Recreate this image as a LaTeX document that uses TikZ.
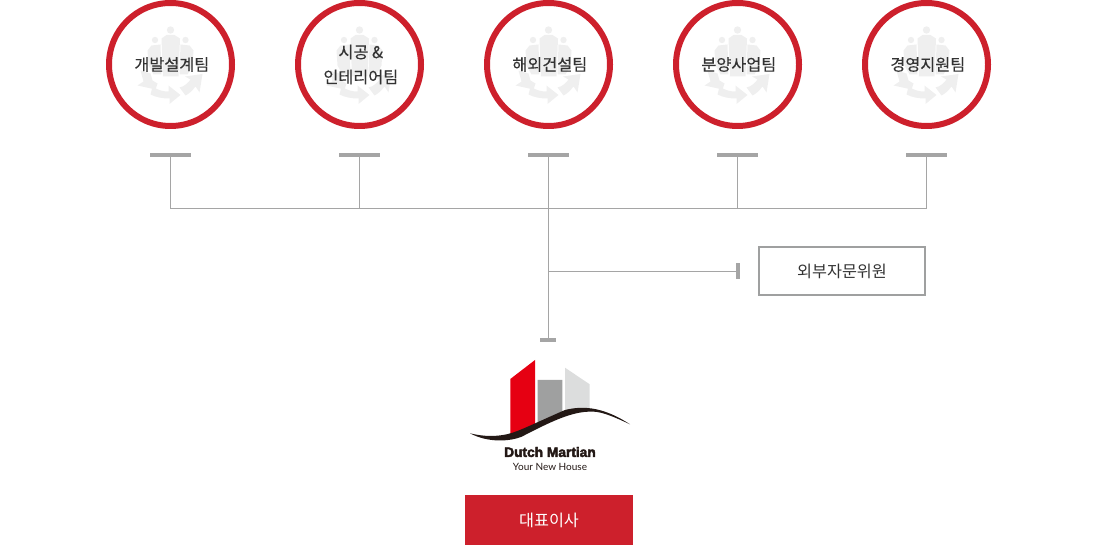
\documentclass[tikz,border=0pt]{standalone}
\usepackage{fontspec}
\setmainfont{Liberation Sans}
\newfontfamily\krfont{Noto Sans CJK KR}
\newfontfamily\krmid[FakeBold=0.25]{Noto Sans CJK KR}
\newfontfamily\logobold[FakeBold=3]{Liberation Sans Bold}
\newfontfamily\logosub{Lato}
\usetikzlibrary{positioning}
\definecolor{ringred}{HTML}{CD202C}
\definecolor{linegray}{HTML}{A5A5A5}
\definecolor{icongray}{HTML}{EFEFEF}
\definecolor{textdark}{HTML}{333333}
\definecolor{logored}{HTML}{E60012}
\definecolor{logomid}{HTML}{9FA0A0}
\definecolor{logolight}{HTML}{DCDDDD}
\definecolor{logoblack}{HTML}{231815}
\tikzset{
    x=0.75pt, y=-0.75pt,
    team/.style = {circle, draw=ringred, line width=4.5pt, minimum size=92.25pt, inner sep=0pt, align=center, font=\krmid\fontsize{12.2pt}{18.7pt}\selectfont, text=textdark},
    bar/.style = {fill=linegray, inner sep=0pt, minimum width=30.75pt, minimum height=3pt},
    tick/.style = {fill=linegray, inner sep=0pt, minimum width=12pt, minimum height=3pt},
    tickv/.style = {fill=linegray, inner sep=0pt, minimum width=3pt, minimum height=12pt},
    wire/.style = {draw=linegray, line width=0.75pt},
    advisor/.style = {rectangle, draw=logomid, line width=1.5pt, minimum width=124.5pt, minimum height=36pt, inner sep=0pt, font=\krfont\fontsize{12.2pt}{14pt}\selectfont, text=textdark},
    ceo/.style = {rectangle, fill=ringred, minimum width=126pt, minimum height=37.5pt, inner sep=0pt, font=\krfont\fontsize{12.2pt}{14pt}\selectfont, text=white},
    every picture/.style={line join=miter}
}
% background icon of one team circle
\newcommand{\teamicon}[1]{
\begin{scope}[shift={(#1)}]
\fill[icongray] (0,-34.5) circle (3.7);
\fill[icongray] (-15.5,-24.5) circle (3.2);
\fill[icongray] (15,-24.5) circle (3.2);
\fill[icongray] (-9,-26) -- (-4,-29.5) -- (4,-29.5) -- (9.5,-26) -- (8,12) -- (-7.5,12) -- cycle;
\fill[icongray] (-10,-20) -- (-19,-19) -- (-23,-14) -- (-22,1) -- (-17,10) -- (-9,10) -- cycle;
\fill[icongray] (10,-20) -- (19,-19) -- (23,-14) -- (22,1) -- (17,10) -- (9,10) -- cycle;
\fill[icongray] (-30,6) -- (-20,9) -- (-18,16) -- (-13,19) -- (-15,25) -- (-33,21) -- (-27,17) -- cycle;
\fill[icongray] (-18,22) .. controls (-12,26) and (-7,27) .. (-2,27) -- (-2,21) -- (10,30.5) -- (-1,39.5) -- (-1,34) .. controls (-8,34) and (-14,33) .. (-20,30) -- cycle;
\fill[icongray] (9,23) .. controls (14,22) and (18,18) .. (20,15) -- (14.5,12) -- (32,9.5) -- (29,28) -- (25,22) .. controls (22,26) and (19,29) .. (15,31) -- cycle;
\end{scope}
}
\begin{document}
\begin{tikzpicture}
\useasboundingbox (0,0) rectangle (1100,545);
%
\teamicon{170.5,64.5}
\teamicon{359.5,64.5}
\teamicon{548.5,64.5}
\teamicon{737.5,64.5}
\teamicon{926.5,64.5}
%
\node[team] at (170.5,64.5) (dev) {\kern2pt 개발설계팀};
\node[team] at (359.5,64.5) (build) {\kern2pt 시공 \&\\\kern2pt 인테리어팀};
\node[team] at (548.5,64.5) (overseas) {\kern2pt 해외건설팀};
\node[team] at (737.5,64.5) (sales) {\kern2pt 분양사업팀};
\node[team] at (926.5,64.5) (support) {\kern2pt 경영지원팀};
%
\node[bar] at (170.5,155) (devbar) {};
\node[bar] at (359.5,155) (buildbar) {};
\node[bar] at (548.5,155) (overseasbar) {};
\node[bar] at (737.5,155) (salesbar) {};
\node[bar] at (926.5,155) (supportbar) {};
%
\coordinate (devjoin) at (170.5,208.5);
\coordinate (buildjoin) at (359.5,208.5);
\coordinate (overseasjoin) at (548.5,208.5);
\coordinate (salesjoin) at (737.5,208.5);
\coordinate (supportjoin) at (926.5,208.5);
\coordinate (advisorjoin) at (548.5,271.5);
\node[tick] at (548,340) (logotick) {};
\node[tickv] at (738,271) (advisortick) {};
\node[advisor] at (842,271) (advisor) {외부자문위원};
%
\draw[wire] (devbar.center) -- (devjoin) -- (supportjoin) -- (supportbar.center);
\draw[wire] (buildbar.center) -- (buildjoin);
\draw[wire] (salesbar.center) -- (salesjoin);
\draw[wire] (overseasbar.center) -- (overseasbar.center |- logotick.north);
\draw[wire] (advisorjoin) -- (advisorjoin -| advisortick.center);
%
% logo
\fill[logored] (510.3,379) -- (535,360) -- (535,426) -- (510.3,436) -- cycle;
\fill[logomid] (537.7,380) -- (562.3,380) -- (562.3,413) -- (537.7,423) -- cycle;
\fill[logolight] (565,367.7) -- (589.7,384.3) -- (589.7,410) -- (565,412) -- cycle;
\fill[logoblack] (470,433.3) .. controls (485,437) and (497,436.5) .. (508,434) .. controls (520,431) and (535,423) .. (565,410) .. controls (585,405) and (605,408) .. (630,424.3) .. controls (612,416) and (600,410.5) .. (588,411.7) .. controls (570,412.5) and (550,422) .. (521.7,436.7) .. controls (510,441.5) and (488,443) .. (470,433.3) -- cycle;
\node[font=\logobold\fontsize{10.3pt}{12pt}\selectfont, text=logoblack, inner sep=0pt] at (550,452) (logoname) {Dutch Martian};
\node[font=\logosub\fontsize{7.5pt}{9pt}\selectfont, text=logoblack, inner sep=0pt] at (550,466.5) (logosub) {Your New House};
%
\node[ceo] at (549,520) (ceo) {대표이사};
\end{tikzpicture}
\end{document}
